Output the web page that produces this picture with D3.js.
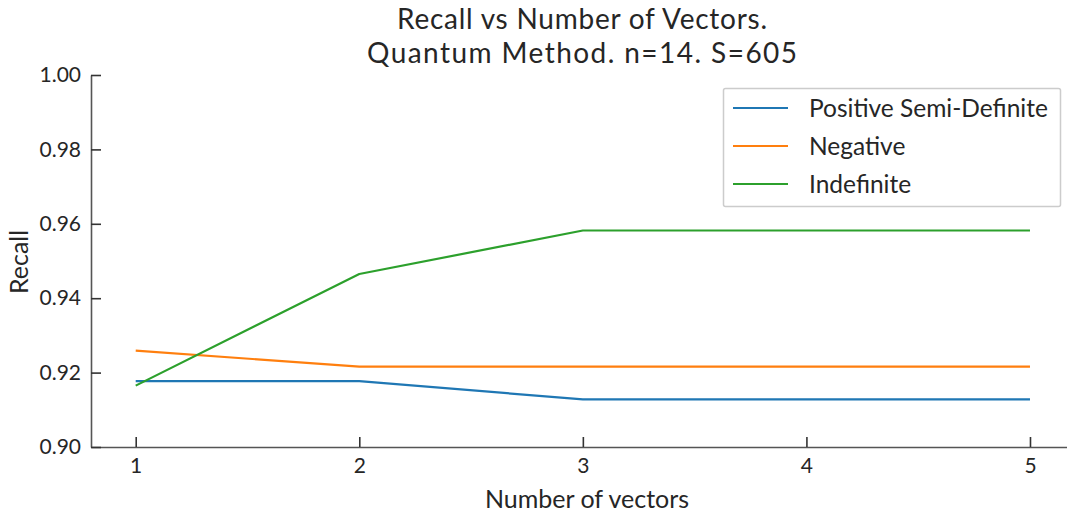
<!DOCTYPE html>
<html>
<head>
<meta charset="utf-8">
<script src="https://cdn.jsdelivr.net/npm/d3@7"></script>
<style>
  html, body { margin: 0; padding: 0; background: #fff; }
  svg { display: block; }
  text { font-family: "Lato", "DejaVu Sans", sans-serif; fill: #262626; }
</style>
</head>
<body>
<svg id="chart" width="1067" height="514"></svg>
<script>
// Number of vectors on the x axis
const vectors = [1, 2, 3, 4, 5];

// Recall per matrix type
const seriesNames = ["Positive Semi-Definite", "Negative", "Indefinite"];
const positiveSemiDefinite = [0.9177, 0.9177, 0.9128, 0.9128, 0.9128];
const negative = [0.9259, 0.9216, 0.9216, 0.9216, 0.9216];
const indefinite = [0.9165, 0.9465, 0.9582, 0.9582, 0.9582];
const seriesValues = [positiveSemiDefinite, negative, indefinite];
const colors = ["#1f77b4", "#ff7f0e", "#2ca02c"];

const yTicks = [0.90, 0.92, 0.94, 0.96, 0.98, 1.00];
const xTicks = [1, 2, 3, 4, 5];

const svg = d3.select("#chart");

const x = d3.scaleLinear().domain([0.8, 5.2]).range([91, 1074.7]);
const y = d3.scaleLinear().domain([0.90, 1.00]).range([447, 75]);

// Axes with inward ticks
const xAxis = d3.axisBottom(x).tickValues(xTicks).tickFormat(d3.format("d"))
  .tickSizeInner(-10).tickSizeOuter(0).tickPadding(11);
const yAxis = d3.axisLeft(y).tickValues(yTicks).tickFormat(d3.format(".2f"))
  .tickSizeInner(-10).tickSizeOuter(0).tickPadding(10);

const gx = svg.append("g").attr("transform", `translate(0,${y(0.90)})`).call(xAxis);
const gy = svg.append("g").attr("transform", `translate(${x(0.8)},0)`).call(yAxis);

[gx, gy].forEach(g => {
  g.select(".domain").attr("stroke", "#555").attr("stroke-width", 1.6);
  g.selectAll(".tick line").attr("stroke", "#333").attr("stroke-width", 1.6);
  g.selectAll(".tick text").attr("font-size", 21).attr("fill", "#262626")
    .style("font-family", "Lato, 'DejaVu Sans', sans-serif");
});

// Series lines
const line = d3.line().x((d, i) => x(vectors[i])).y(d => y(d));
seriesValues.forEach((vals, i) => {
  svg.append("path").datum(vals)
    .attr("d", line)
    .attr("fill", "none")
    .attr("stroke", colors[i])
    .attr("stroke-width", 2.2)
    .attr("stroke-linejoin", "round");
});

// Title (two lines)
const title = svg.append("text").attr("text-anchor", "middle").attr("font-size", 28);
title.append("tspan").attr("x", 582).attr("y", 29)
  .attr("textLength", 370).attr("lengthAdjust", "spacing")
  .text("Recall vs Number of Vectors.");
title.append("tspan").attr("x", 582).attr("y", 63)
  .attr("textLength", 430).attr("lengthAdjust", "spacing")
  .text("Quantum Method. n=14. S=605");

// Axis labels
svg.append("text").attr("x", 587).attr("y", 508).attr("text-anchor", "middle")
  .attr("font-size", 25).text("Number of vectors");
svg.append("text").attr("transform", "translate(28,262) rotate(-90)")
  .attr("text-anchor", "middle").attr("font-size", 25).text("Recall");

// Legend
const legend = svg.append("g");
legend.append("rect").attr("x", 723.5).attr("y", 88.5).attr("width", 337).attr("height", 118)
  .attr("rx", 2).attr("fill", "#fff").attr("stroke", "#ccc").attr("stroke-width", 1.5);
seriesNames.forEach((name, i) => {
  const ly = 108 + i * 38;
  legend.append("line").attr("x1", 733).attr("x2", 788).attr("y1", ly).attr("y2", ly)
    .attr("stroke", colors[i]).attr("stroke-width", 2.2);
  legend.append("text").attr("x", 809).attr("y", ly + 9).attr("font-size", 24.5).text(name);
});
</script>
</body>
</html>
